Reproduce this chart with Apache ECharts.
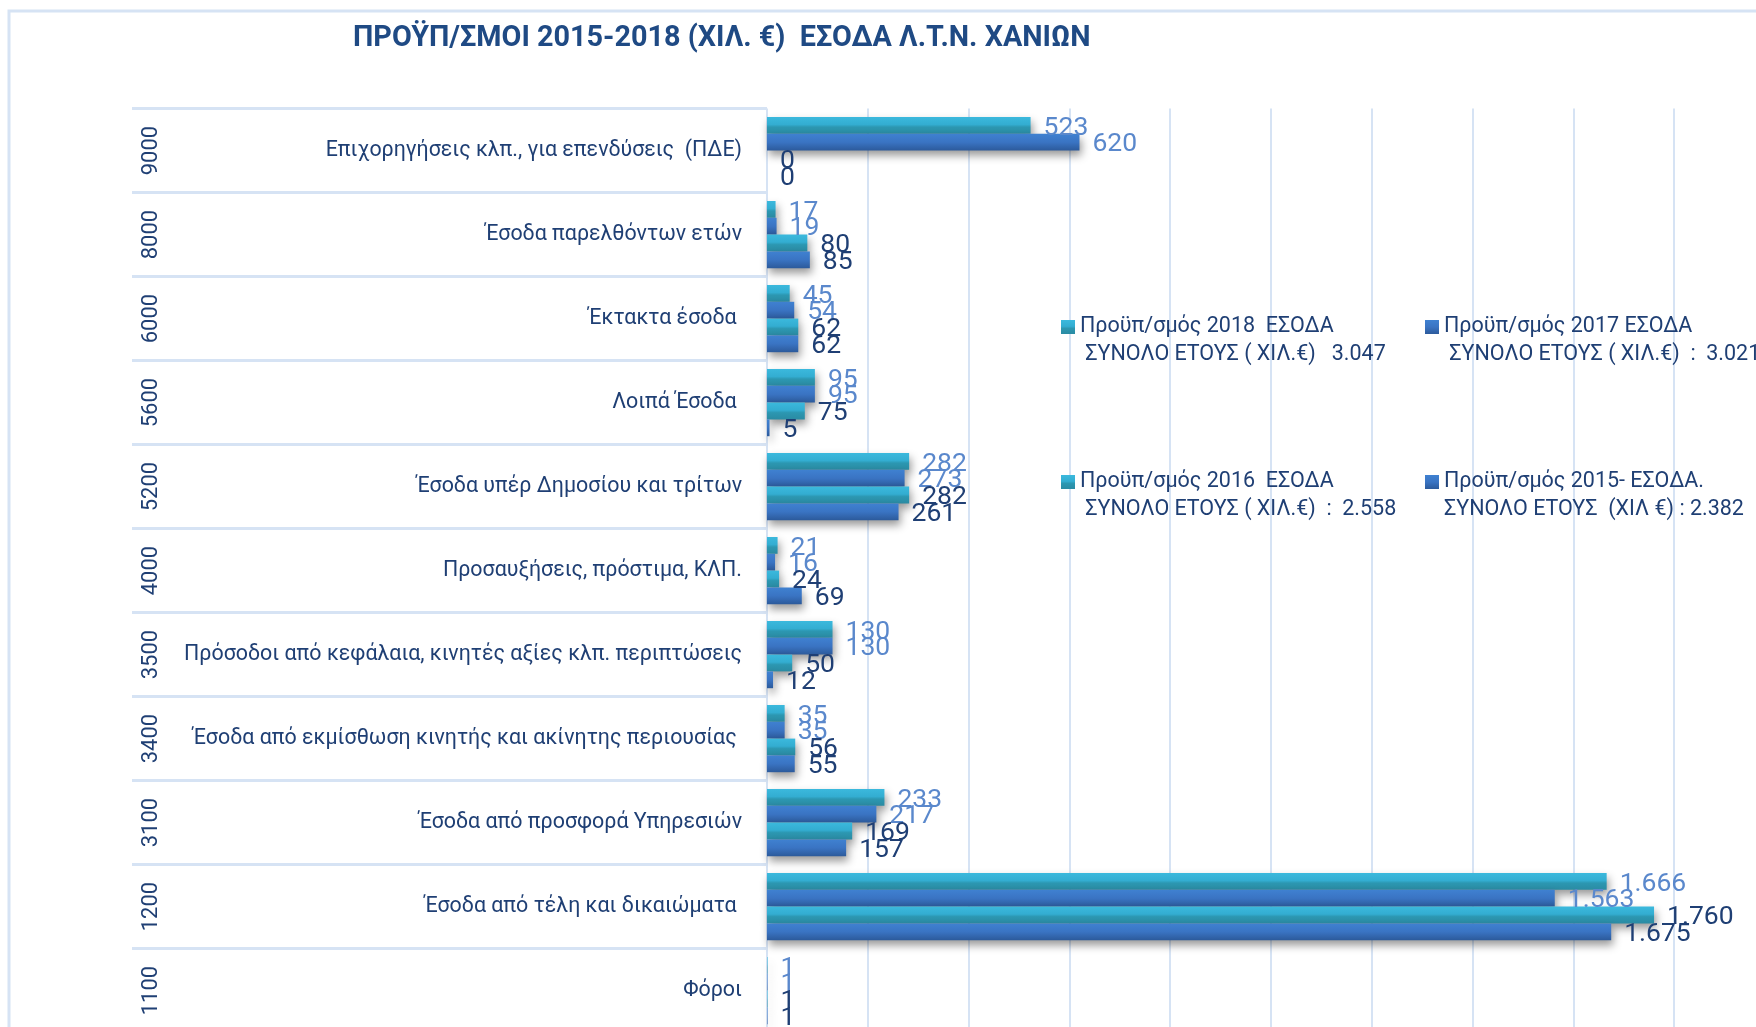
<!DOCTYPE html>
<html>
<head>
<meta charset="utf-8">
<script src="https://cdn.jsdelivr.net/npm/echarts@6/dist/echarts.min.js"></script>
<style>
html,body{margin:0;padding:0;background:#fff;}
#chart{width:1756px;height:1027px;}
</style>
</head>
<body>
<div id="chart"></div>
<script>
const codes = ['9000','8000','6000','5600','5200','4000','3500','3400','3100','1200','1100'];
const categories = [
  'Επιχορηγήσεις κλπ., για επενδύσεις  (ΠΔΕ)',
  'Έσοδα παρελθόντων ετών',
  'Έκτακτα έσοδα ',
  'Λοιπά Έσοδα ',
  'Έσοδα υπέρ Δημοσίου και τρίτων',
  'Προσαυξήσεις, πρόστιμα, ΚΛΠ.',
  'Πρόσοδοι από κεφάλαια, κινητές αξίες κλπ. περιπτώσεις',
  'Έσοδα από εκμίσθωση κινητής και ακίνητης περιουσίας ',
  'Έσοδα από προσφορά Υπηρεσιών',
  'Έσοδα από τέλη και δικαιώματα ',
  'Φόροι'
];
const values2018 = [523, 17, 45, 95, 282, 21, 130, 35, 233, 1666, 1];
const values2017 = [620, 19, 54, 95, 273, 16, 130, 35, 217, 1563, 1];
const values2016 = [0, 80, 62, 75, 282, 24, 50, 56, 169, 1760, 1];
const values2015 = [0, 85, 62, 5, 261, 69, 12, 55, 157, 1675, 1];
const seriesNames = [
  'Προϋπ/σμός 2018  ΕΣΟΔΑ\n ΣΥΝΟΛΟ ΕΤΟΥΣ ( ΧΙΛ.€)   3.047',
  'Προϋπ/σμός 2017 ΕΣΟΔΑ\n ΣΥΝΟΛΟ ΕΤΟΥΣ ( ΧΙΛ.€)  :  3.021',
  'Προϋπ/σμός 2016  ΕΣΟΔΑ\n ΣΥΝΟΛΟ ΕΤΟΥΣ ( ΧΙΛ.€)  :  2.558',
  'Προϋπ/σμός 2015- ΕΣΟΔΑ.\nΣΥΝΟΛΟ ΕΤΟΥΣ  (ΧΙΛ €) : 2.382'
];
const titleText = 'ΠΡΟΫΠ/ΣΜΟΙ 2015-2018 (ΧΙΛ. €)  ΕΣΟΔΑ Λ.Τ.Ν. ΧΑΝΙΩΝ';

const FONT = 'Roboto';
const NAVY = '#1F3F74';
const LIGHTLBL = '#5A88CC';
const GRIDC = '#D6E3F4';

const cyanGrad = new echarts.graphic.LinearGradient(0,0,0,1,[
  {offset:0,color:'#3BB9DD'},{offset:0.45,color:'#33ADD1'},{offset:0.6,color:'#2C97B1'},{offset:1,color:'#2A8BA3'}]);
const blueGrad = new echarts.graphic.LinearGradient(0,0,0,1,[
  {offset:0,color:'#3F81D1'},{offset:0.5,color:'#3A74C3'},{offset:1,color:'#2C5A9B'}]);

function fmt(v){ return String(v).replace(/\B(?=(\d{3})+(?!\d))/g,'.'); }

function mkSeries(name, data, grad, lblColor){
  return {
    type:'bar', name:name, data:data, yAxisIndex:0,
    barGap:'0%', barCategoryGap:'20%',
    itemStyle:{color:grad, shadowColor:'rgba(0,0,0,0.4)', shadowBlur:8, shadowOffsetX:2, shadowOffsetY:5},
    label:{show:true, position:'right', distance:13, offset:[0,2.5], color:lblColor, fontFamily:FONT, fontSize:26.5,
      formatter:p=>fmt(p.value)},
    emphasis:{disabled:true},
    animation:false
  };
}

const chart = echarts.init(document.getElementById('chart'), null, {renderer:'canvas'});
const legendBase = (name,left,top)=>({
  data:[name], left:left, top:top, orient:'vertical', padding:0,
  icon:'rect', itemWidth:14, itemHeight:14,
  formatter:n=>'\n'+n,
  textStyle:{fontFamily:FONT, fontSize:21.5, color:NAVY, lineHeight:28},
  selectedMode:false
});
chart.setOption({
  animation:false,
  backgroundColor:'#fff',
  title:{text:titleText, left:353, top:24.5, padding:0,
    textStyle:{fontFamily:FONT, fontWeight:'bold', fontSize:28.8, color:'#1F4A84'}},
  graphic:[{type:'rect', shape:{x:9, y:11, width:1800, height:1100}, style:{fill:null, stroke:GRIDC, lineWidth:3}, silent:true, z:-1}],
  legend:[
    legendBase(seriesNames[0],1061,285),
    legendBase(seriesNames[1],1425,285),
    legendBase(seriesNames[2],1061,440),
    legendBase(seriesNames[3],1425,440)
  ],
  grid:{left:767, top:108.6, width:907.2, height:924, containLabel:false, outerBoundsMode:'none'},
  xAxis:{type:'value', min:0, max:1800, interval:200,
    axisLabel:{show:false}, axisLine:{show:false}, axisTick:{show:false},
    splitLine:{show:true, lineStyle:{color:GRIDC, width:2}}},
  yAxis:[
    {type:'category', data:categories, inverse:true, position:'left',
      axisLine:{show:false},
      axisTick:{show:true, length:635, interval:0, lineStyle:{color:GRIDC, width:3}},
      axisLabel:{margin:25, fontFamily:FONT, fontSize:21.4, color:NAVY, interval:0}},
    {type:'category', data:codes, inverse:true, position:'left',
      axisLine:{show:false}, axisTick:{show:false},
      axisLabel:{margin:605, rotate:90, fontFamily:FONT, fontSize:22, color:NAVY, interval:0}}
  ],
  series:[
    mkSeries(seriesNames[0], values2018, cyanGrad, LIGHTLBL),
    mkSeries(seriesNames[1], values2017, blueGrad, LIGHTLBL),
    mkSeries(seriesNames[2], values2016, cyanGrad, NAVY),
    mkSeries(seriesNames[3], values2015, blueGrad, NAVY)
  ]
});
</script>
</body>
</html>
